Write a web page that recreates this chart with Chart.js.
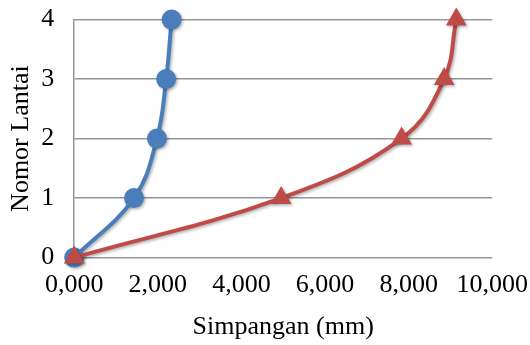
<!DOCTYPE html>
<html>
<head>
<meta charset="utf-8">
<script src="https://cdn.jsdelivr.net/npm/chart.js@4"></script>
<style>
  html, body { margin: 0; padding: 0; background: #fff; }
  #wrap { width: 530px; height: 345px; }
</style>
</head>
<body>
<div id="wrap"><canvas id="chart" width="530" height="345"></canvas></div>
<script>
// floor numbers (y) and displacement in mm (x)
const floors = [0, 1, 2, 3, 4];
const blueDisp = [0, 1.43, 1.98, 2.20, 2.33];
const redDisp = [0, 4.95, 7.83, 8.85, 9.14];
const xTicks = [0, 2, 4, 6, 8, 10];
const yTicks = [0, 1, 2, 3, 4];

const toPoints = (xs) => xs.map((x, i) => ({ x: x, y: floors[i] }));

// soft drop shadow like the office chart
const shadowPlugin = {
  id: "shadow",
  beforeDatasetsDraw(chart) {
    const ctx = chart.ctx;
    ctx.save();
    ctx.shadowColor = "rgba(0,0,0,0.3)";
    ctx.shadowBlur = 3;
    ctx.shadowOffsetX = 1.5;
    ctx.shadowOffsetY = 1.5;
  },
  afterDatasetsDraw(chart) {
    chart.ctx.restore();
  },
};

const font = { family: "'Liberation Serif', 'Times New Roman', serif", size: 26 };
const clear = "rgba(0,0,0,0)";

new Chart(document.getElementById("chart"), {
  type: "scatter",
  data: {
    datasets: [
      {
        data: toPoints(blueDisp),
        showLine: true,
        borderColor: "#4a7ebb",
        backgroundColor: "#4a7ebb",
        borderWidth: 4,
        pointRadius: 10,
        pointBorderWidth: 0,
        pointStyle: "circle",
        tension: 0.4,
        order: 2,
      },
      {
        data: toPoints(redDisp),
        showLine: true,
        borderColor: "#be4b48",
        backgroundColor: "#be4b48",
        borderWidth: 4,
        pointRadius: 12,
        pointBorderWidth: 0,
        pointStyle: "triangle",
        tension: 0.4,
        order: 1,
      },
    ],
  },
  options: {
    responsive: false,
    animation: false,
    clip: false,
    layout: { autoPadding: false, padding: { top: 1, right: 6, left: 6, bottom: 2 } },
    plugins: { legend: { display: false }, tooltip: { enabled: false } },
    scales: {
      x: {
        type: "linear",
        min: 0,
        max: 10,
        afterBuildTicks: (s) => { s.ticks = xTicks.map((v) => ({ value: v })); },
        // invisible tick marks give the label gap without widening the side padding
        grid: { color: clear, tickColor: clear, drawTicks: true, tickLength: 10 },
        border: { display: false },
        ticks: {
          color: "#000",
          font: font,
          padding: 2,
          maxRotation: 0,
          callback: (v) => Number(v).toFixed(3).replace(".", ","),
        },
        title: { display: true, text: "Simpangan (mm)", color: "#000", font: font, padding: { top: 9, bottom: 0 } },
      },
      y: {
        type: "linear",
        min: 0,
        max: 4,
        afterBuildTicks: (s) => { s.ticks = yTicks.map((v) => ({ value: v })); },
        grid: { color: "#959595", lineWidth: 1.5, tickColor: clear, drawTicks: true, tickLength: 16 },
        border: { display: true, color: "#959595", width: 1.5 },
        ticks: { color: "#000", font: font, padding: 4 },
        title: { display: true, text: "Nomor Lantai", color: "#000", font: font, padding: { top: 0, bottom: 0 } },
      },
    },
  },
  plugins: [shadowPlugin],
});
</script>
</body>
</html>
